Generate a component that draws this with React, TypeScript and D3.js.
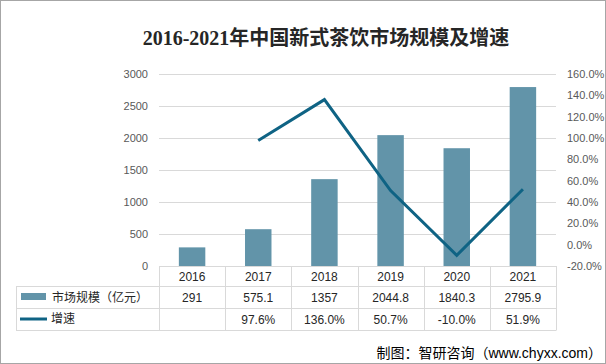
import { useEffect, useRef } from "react";
import * as d3 from "d3";

const years = ["2016", "2017", "2018", "2019", "2020", "2021"];
const marketSize = [291, 575.1, 1357, 2044.8, 1840.3, 2795.9];
const growth: (number | null)[] = [null, 97.6, 136.0, 50.7, -10.0, 51.9];
const leftTicks = [0, 500, 1000, 1500, 2000, 2500, 3000];
const rightTicks = [-20, 0, 20, 40, 60, 80, 100, 120, 140, 160];

const BAR_COLOR = "#6294a9";
const LINE_COLOR = "#0f6384";
const GRID = "#d9d9d9";
const FONT = "'Liberation Sans', 'Noto Sans CJK SC', sans-serif";

export default function App() {
  const svgRef = useRef<SVGSVGElement>(null);

  useEffect(() => {
    const svg = d3.select(svgRef.current);
    svg.selectAll("*").remove();

    const width = 606;
    const height = 364;
    const plot = { left: 159, right: 556, top: 74, bottom: 266 };
    const rows = [266, 286, 308, 330];
    const legendLeft = 16;

    svg.append("rect").attr("width", width).attr("height", height).attr("fill", "#fff");

    const x = d3
      .scaleBand()
      .domain(years)
      .range([plot.left, plot.right])
      .paddingInner(0.6)
      .paddingOuter(0.3);
    const colW = (plot.right - plot.left) / years.length;
    const yL = d3.scaleLinear().domain([0, 3000]).range([plot.bottom, plot.top]);
    const yR = d3.scaleLinear().domain([-20, 160]).range([plot.bottom, plot.top]);

    // gridlines
    svg
      .append("g")
      .selectAll("line")
      .data(leftTicks.filter(d => d > 0))
      .enter()
      .append("line")
      .attr("x1", plot.left)
      .attr("x2", plot.right)
      .attr("y1", d => Math.round(yL(d)) + 0.5)
      .attr("y2", d => Math.round(yL(d)) + 0.5)
      .attr("stroke", GRID);

    // left axis labels
    svg
      .append("g")
      .selectAll("text")
      .data(leftTicks)
      .enter()
      .append("text")
      .attr("x", 148)
      .attr("y", d => yL(d) + 4)
      .attr("text-anchor", "end")
      .attr("font-size", 11)
      .attr("font-family", FONT)
      .attr("fill", "#595959")
      .text(d => d);

    // right axis labels
    svg
      .append("g")
      .selectAll("text")
      .data(rightTicks)
      .enter()
      .append("text")
      .attr("x", 567)
      .attr("y", d => yR(d) + 4)
      .attr("font-size", 11)
      .attr("font-family", FONT)
      .attr("fill", "#595959")
      .text(d => `${d.toFixed(1)}%`);

    // bars
    svg
      .append("g")
      .selectAll("rect")
      .data(marketSize)
      .enter()
      .append("rect")
      .attr("x", (_, i) => x(years[i])!)
      .attr("y", d => yL(d))
      .attr("width", x.bandwidth())
      .attr("height", d => yL(0) - yL(d))
      .attr("fill", BAR_COLOR);

    // growth line
    const pts = growth
      .map((g, i) => ({ g, year: years[i] }))
      .filter(d => d.g != null) as { g: number; year: string }[];
    const line = d3
      .line<{ g: number; year: string }>()
      .x(d => x(d.year)! + x.bandwidth() / 2)
      .y(d => yR(d.g));
    svg
      .append("path")
      .attr("d", line(pts))
      .attr("fill", "none")
      .attr("stroke", LINE_COLOR)
      .attr("stroke-width", 3)
      .attr("stroke-linejoin", "miter");

    // data table
    const tbl = svg.append("g").attr("stroke", GRID).attr("stroke-width", 1);
    rows.forEach((ry, i) => {
      tbl
        .append("line")
        .attr("x1", i === 0 ? plot.left : legendLeft)
        .attr("x2", plot.right)
        .attr("y1", ry + 0.5)
        .attr("y2", ry + 0.5);
    });
    years.concat(["end"]).forEach((_, i) => {
      const vx = Math.round(plot.left + i * colW) + 0.5;
      tbl.append("line").attr("x1", vx).attr("x2", vx).attr("y1", rows[0]).attr("y2", rows[3] + 0.5);
    });
    tbl
      .append("line")
      .attr("x1", legendLeft + 0.5)
      .attr("x2", legendLeft + 0.5)
      .attr("y1", rows[1])
      .attr("y2", rows[3] + 0.5);

    const cell = (txt: string, cx: number, cy: number) =>
      svg
        .append("text")
        .attr("x", cx)
        .attr("y", cy)
        .attr("text-anchor", "middle")
        .attr("font-size", 12)
        .attr("font-family", FONT)
        .attr("fill", "#262626")
        .text(txt);

    years.forEach((yr, i) => {
      const cx = plot.left + (i + 0.5) * colW;
      cell(yr, cx, 281);
      cell(String(marketSize[i]), cx, 302);
      const g = growth[i];
      if (g != null) cell(`${g.toFixed(1)}%`, cx, 324);
    });

    // legend keys inside table
    svg.append("rect").attr("x", 21).attr("y", 293).attr("width", 25).attr("height", 7).attr("fill", BAR_COLOR);
    svg
      .append("line")
      .attr("x1", 20)
      .attr("x2", 47)
      .attr("y1", 319)
      .attr("y2", 319)
      .attr("stroke", LINE_COLOR)
      .attr("stroke-width", 3);
    svg
      .append("text")
      .attr("x", 52)
      .attr("y", 302)
      .attr("font-size", 12)
      .attr("font-family", FONT)
      .attr("fill", "#262626")
      .text("市场规模（亿元）");
    svg
      .append("text")
      .attr("x", 51)
      .attr("y", 323)
      .attr("font-size", 12)
      .attr("font-family", FONT)
      .attr("fill", "#262626")
      .text("增速");

    // title
    svg
      .append("text")
      .attr("x", 326)
      .attr("y", 45)
      .attr("text-anchor", "middle")
      .attr("font-size", 20)
      .attr("font-weight", 600)
      .attr("font-family", "'Liberation Serif', 'Noto Sans CJK SC', serif")
      .attr("fill", "#262626")
      .text("2016-2021年中国新式茶饮市场规模及增速");

    // source
    svg
      .append("text")
      .attr("x", 602)
      .attr("y", 358)
      .attr("text-anchor", "end")
      .attr("font-size", 14)
      .attr("font-family", FONT)
      .attr("fill", "#000")
      .text("制图：智研咨询（www.chyxx.com）");

    // outer border
    svg
      .append("rect")
      .attr("x", 0.5)
      .attr("y", 0.5)
      .attr("width", width - 1)
      .attr("height", height - 1)
      .attr("fill", "none")
      .attr("stroke", "#a6a6a6");
  }, []);

  return (
    <svg
      ref={svgRef}
      width={606}
      height={364}
      viewBox="0 0 606 364"
      style={{ position: "absolute", left: 0, top: 0 }}
    />
  );
}
